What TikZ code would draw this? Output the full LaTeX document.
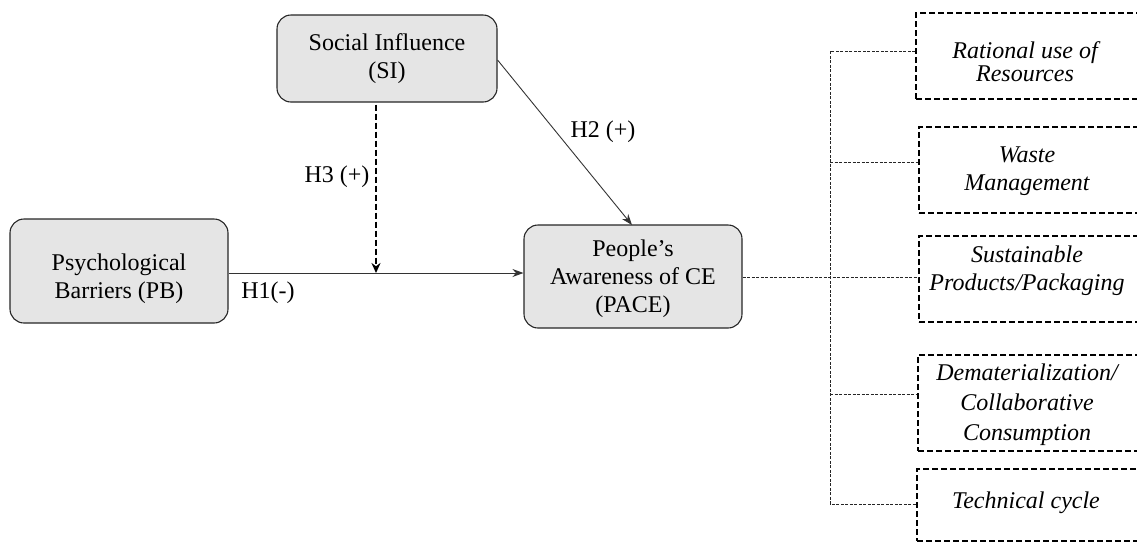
\documentclass[tikz,border=0pt]{standalone}
\usepackage{fontspec}
\setmainfont{Liberation Serif}
\usetikzlibrary{arrows.meta}
\begin{document}
\begin{tikzpicture}[x=1pt,y=-1pt,
  lbl/.style={font=\fontsize{24}{28}\selectfont},
  construct/.style={draw=black!85,line width=1.1pt,fill=black!10,rounded corners=14pt,
    align=center,inner sep=0pt,font=\fontsize{24}{28}\selectfont},
  ctext/.style={align=center,inner sep=0pt,font=\fontsize{24}{28}\selectfont},
  dimbox/.style={draw=black,line width=1.8pt,dash pattern=on 6pt off 3pt,inner sep=0pt},
  dimtext/.style={align=center,inner sep=0pt,font=\fontsize{24}{28}\selectfont\itshape},
  path/.style={draw=black!80,line width=0.9pt,-{Stealth[length=11pt,width=8pt]}},
  modpath/.style={draw=black,line width=2.6pt,dash pattern=on 6pt off 3pt,
    -{Stealth[length=10pt,width=9pt]}},
  link/.style={draw=black!85,line width=1pt,dash pattern=on 3pt off 1.5pt}
]
\useasboundingbox (0,0) rectangle (1137,542);
\clip (0,0) rectangle (1137,542);

% constructs
\node[construct,minimum width=220pt,minimum height=87pt] (si) at (387,58.5)
  {Social Influence\\(SI)};
\node[construct,minimum width=218pt,minimum height=104pt] (pb) at (119,271) {};
\node[ctext] (pbt) at (119,279) {Psychological\\Barriers (PB)};
\node[construct,minimum width=218pt,minimum height=103pt] (pace) at (633,276.5) {};
\node[ctext] (pacet) at (633,279) {People’s\\Awareness of CE\\(PACE)};

% dimensions of PACE (frames run past the right edge)
\node[dimbox,minimum width=232pt,minimum height=86pt] (b1) at (1032,56) {};
\node[dimbox,minimum width=229pt,minimum height=86pt] (b2) at (1033.5,170) {};
\node[dimbox,minimum width=229pt,minimum height=86pt] (b3) at (1033.5,279) {};
\node[dimbox,minimum width=230pt,minimum height=96pt] (b4) at (1033,403) {};
\node[dimbox,minimum width=231pt,minimum height=72pt] (b5) at (1032.5,505) {};

\node[dimtext] (t1) at (1025,62) {Rational use of\\[-5pt]Resources};
\node[dimtext] (t2) at (1027,171) {Waste\\Management};
\node[dimtext] (t3) at (1027,271) {Sustainable\\Products/Packaging};
\node[dimtext] (t4) at (1027,405) {Dematerialization/\\[2pt]Collaborative\\[2pt]Consumption};
\node[dimtext] (t5) at (1026,503) {Technical cycle};

% hypothesised paths
\coordinate (mod) at (376,273);
\draw[path] (pb.east |- mod) -- (pace.west |- mod);
\draw[modpath] (si.south -| mod) ++(0,2) -- (mod);
\draw[path] (si.east) ++(0,1.5) -- (632,225);

\node[lbl] (h1) at (268,293) {H1(-)};
\node[lbl,anchor=east] (h3) at (373,177) {H3 (+)};
\node[lbl] (h2) at (603,132) {H2 (+)};

% tree of dimensions
\coordinate (j1) at (830,51);
\coordinate (j2) at (830,162);
\coordinate (j3) at (830,277);
\coordinate (j4) at (830,394);
\coordinate (j5) at (830,504);
\draw[link] (j1 -| b1.west) -- (j1) -- (j5) -- (j5 -| b5.west);
\draw[link] (j2) -- (j2 -| b2.west);
\draw[link] (j4) -- (j4 -| b4.west);
\draw[link] (pace.east |- j3) -- (j3 -| b3.west);
\end{tikzpicture}
\end{document}
